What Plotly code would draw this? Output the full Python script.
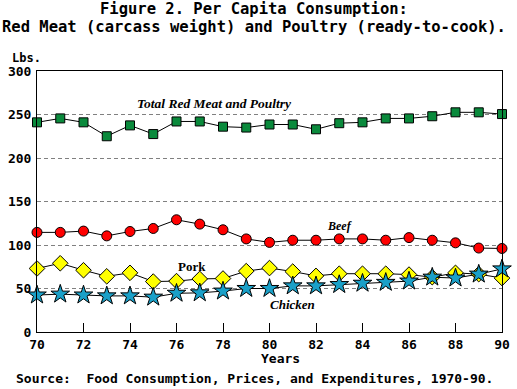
import plotly.graph_objects as go

years = list(range(1970, 1991))
total = [241, 245.5, 241, 225, 237.5, 227.5, 242, 242, 236, 235, 238.5, 238.5, 233, 240, 241, 245.5, 245.5, 248, 252.5, 252.5, 250.5]
beef = [114.5, 114.5, 116, 110.5, 115.5, 119, 129, 124, 117.5, 107, 103, 105.5, 105.5, 107, 107, 105.5, 108.5, 105.5, 102.5, 96.5, 96]
pork = [73, 79, 71, 64, 68, 58, 58.5, 61, 61.5, 70, 73.5, 69.5, 64.5, 67, 67, 67, 66, 63, 68, 66.5, 62]
chicken = [42.5, 43.5, 42.5, 41.5, 41.5, 40, 44.5, 45, 47, 50, 50, 53, 53, 54.5, 56, 57, 58.5, 63, 62, 66.5, 72.5]
x_ticks = list(range(70, 91, 2))
y_ticks = [0, 50, 100, 150, 200, 250, 300]

title1 = "Figure 2. Per Capita Consumption:"
title2 = "Red Meat (carcass weight) and Poultry (ready-to-cook)."
source = "Source:  Food Consumption, Prices, and Expenditures, 1970-90."

W, H = 517, 389
L, R, T, B = 37, 7, 71, 57
pw, ph = W - L - R, H - T - B

def px(x):
    return (x - L) / pw

def py(y):
    return (H - B - y) / ph

mono = "DejaVu Sans Mono"
serif = "Liberation Serif"

fig = go.Figure()
series = [
    ("Total Red Meat and Poultry", total, "square", "#0a8a3c", 9),
    ("Beef", beef, "circle", "#ff0000", 10),
    ("Pork", pork, "diamond", "#ffff00", 12),
    ("Chicken", chicken, "star", "#1aa0c8", 14),
]
for name, vals, sym, col, sz in series:
    fig.add_trace(go.Scatter(
        x=[y - 1900 for y in years], y=vals, mode="lines+markers", name=name,
        line=dict(color="black", width=1),
        marker=dict(symbol=sym, color=col, size=sz, line=dict(color="black", width=1)),
        cliponaxis=False,
    ))

fig.update_layout(
    width=W, height=H, margin=dict(l=L, r=R, t=T, b=B),
    paper_bgcolor="white", plot_bgcolor="white", showlegend=False,
    font=dict(family=mono, color="black", size=13),
)
fig.update_xaxes(
    range=[70, 90], tickmode="array", tickvals=x_ticks,
    ticktext=[str(v) for v in x_ticks],
    ticks="inside", ticklen=9, tickcolor="black", tickwidth=1,
    showline=True, linecolor="black", linewidth=1, mirror=True,
    showgrid=False, zeroline=False, ticklabeloverflow="allow",
    tickfont=dict(family=mono, size=13, weight="bold"),
)
fig.update_yaxes(
    range=[0, 300], tickmode="array", tickvals=y_ticks,
    showline=True, linecolor="black", linewidth=1, mirror=True,
    showgrid=True, gridcolor="#808080", griddash="4px,3px", gridwidth=1,
    zeroline=False, ticks="", ticklabelstandoff=2, ticklabeloverflow="allow",
    tickfont=dict(family=mono, size=13, weight="bold"),
)

ann = [
    dict(text=title1, x=px(258), y=py(9), font=dict(family=mono, size=15.5, weight="bold")),
    dict(text=title2, x=px(258), y=py(27), font=dict(family=mono, size=15.5, weight="bold")),
    dict(text="Lbs.", x=px(26), y=py(58), font=dict(family=mono, size=12, weight="bold")),
    dict(text="Years", x=px(285), y=py(358), font=dict(family=mono, size=13, weight="bold")),
    dict(text=source, x=px(14), y=py(378), xanchor="left", font=dict(family=mono, size=13, weight="bold")),
    dict(text="Total Red Meat and Poultry", x=px(218), y=py(104), font=dict(family=serif, size=13.5, weight="bold", style="italic")),
    dict(text="Beef", x=px(345), y=py(226), font=dict(family=serif, size=12, weight="bold", style="italic")),
    dict(text="Pork", x=px(195), y=py(266), font=dict(family=serif, size=13, weight="bold")),
    dict(text="Chicken", x=px(297), y=py(304), font=dict(family=serif, size=13, weight="bold", style="italic")),
]
for a in ann:
    a.setdefault("xanchor", "center")
    fig.add_annotation(xref="paper", yref="paper", yanchor="middle", showarrow=False, **a)

fig.write_html("out.html", config={"displayModeBar": False},
               post_script="document.body.style.margin='0';document.body.style.overflow='hidden';")
